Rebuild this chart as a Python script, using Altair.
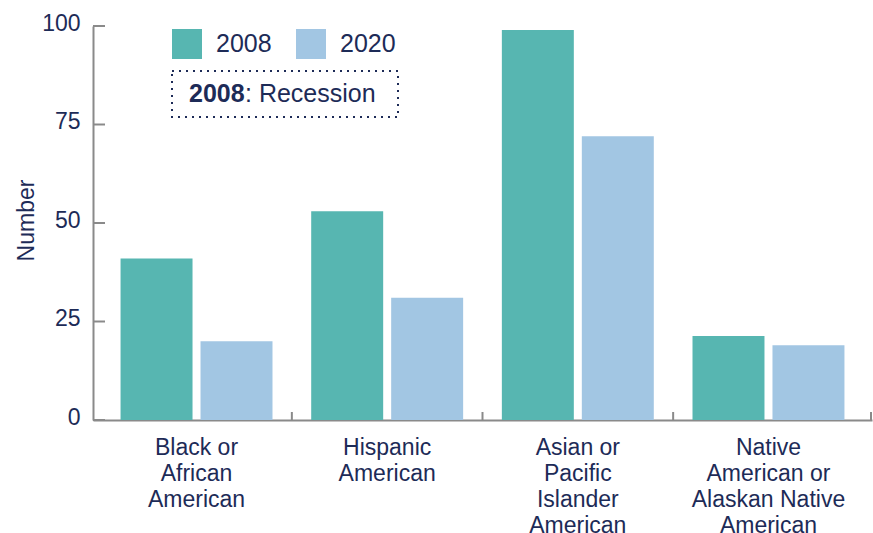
import altair as alt
import pandas as pd

groups = [
    "Black or\nAfrican\nAmerican",
    "Hispanic\nAmerican",
    "Asian or\nPacific\nIslander\nAmerican",
    "Native\nAmerican or\nAlaskan Native\nAmerican",
]
years = ["2008", "2020"]
values_2008 = [41, 53, 99, 21.3]
values_2020 = [20, 31, 72, 19]
y_ticks = [0, 25, 50, 75, 100]
colors = ["#57b6b1", "#a2c6e3"]

NAVY = "#1d2b57"
GRAY = "#8a8a8a"
FONT = "Liberation Sans"
W, H = 779, 394

rows = []
for g, a, b in zip(groups, values_2008, values_2020):
    rows.append({"group": g, "year": years[0], "value": a})
    rows.append({"group": g, "year": years[1], "value": b})
df = pd.DataFrame(rows)

x_scale = alt.Scale(domain=groups, paddingInner=0, paddingOuter=0.043)
y_scale = alt.Scale(domain=[0, 100], nice=False)

x_axis = alt.Axis(title=None, labelExpr="split(datum.label, '\\n')",
                  ticks=False, domainColor=GRAY, domainWidth=2,
                  labelFontSize=23, labelColor=NAVY, labelFont=FONT,
                  labelPadding=16, labelLineHeight=26, labelAngle=0,
                  labelBaseline="top")
y_axis = alt.Axis(values=y_ticks, title="Number", ticks=False, grid=False,
                  domainColor=GRAY, domainWidth=2, labelFontSize=23,
                  labelColor=NAVY, labelFont=FONT, labelPadding=13,
                  labelOffset=-3,
                  titleFont=FONT, titleFontSize=23, titleColor=NAVY,
                  titleFontWeight="normal", titleAngle=-90,
                  titleX=-60, titleY=194, titleAlign="center",
                  titleBaseline="alphabetic")

bars = alt.Chart(df).mark_bar().encode(
    x=alt.X("group:N", sort=groups, scale=x_scale, axis=x_axis),
    xOffset=alt.XOffset("year:N", sort=years,
                        scale=alt.Scale(paddingInner=0.1, paddingOuter=0.242)),
    y=alt.Y("value:Q", scale=y_scale, axis=y_axis),
    color=alt.Color("year:N", scale=alt.Scale(domain=years, range=colors),
                    legend=alt.Legend(orient="none", legendX=79, legendY=3,
                                      direction="horizontal", title=None,
                                      symbolType="square", symbolSize=900,
                                      symbolStrokeWidth=0, symbolOpacity=1,
                                      labelFontSize=25, labelFont=FONT,
                                      labelColor=NAVY, labelOffset=14,
                                      columnPadding=24, padding=0)),
)

ytick_df = pd.DataFrame({"value": y_ticks})
ytick_rules = alt.Chart(ytick_df).mark_rule(color=GRAY, strokeWidth=2).encode(
    y=alt.Y("value:Q", scale=y_scale, axis=y_axis),
    x=alt.value(0), x2=alt.value(12),
)

xtick_df = pd.DataFrame({"group": groups[:3]})
xtick_rules = alt.Chart(xtick_df).mark_rule(color=GRAY, strokeWidth=2).encode(
    x=alt.X("group:N", sort=groups, scale=x_scale, bandPosition=1, axis=x_axis),
    y=alt.value(H - 8), y2=alt.value(H),
)

one = pd.DataFrame({"k": [0]})
end_tick = alt.Chart(one).mark_rule(color=GRAY, strokeWidth=2).encode(
    x=alt.value(W - 1), y=alt.value(H - 8), y2=alt.value(H),
)

box = alt.Chart(one).mark_rect(fill="transparent", stroke=NAVY, strokeWidth=2,
                               strokeDash=[2, 5]).encode(
    x=alt.value(79), x2=alt.value(305), y=alt.value(45), y2=alt.value(91),
)
t_bold = alt.Chart(one).mark_text(align="left", baseline="alphabetic", fontSize=25,
                                  font=FONT, fontWeight="bold", color=NAVY).encode(
    x=alt.value(96), y=alt.value(76), text=alt.value("2008"),
)
t_rest = alt.Chart(one).mark_text(align="left", baseline="alphabetic", fontSize=25,
                                  font=FONT, color=NAVY).encode(
    x=alt.value(152), y=alt.value(76), text=alt.value(": Recession"),
)

chart = alt.layer(bars, ytick_rules, xtick_rules, end_tick, box, t_bold, t_rest).properties(
    width=W, height=H,
    autosize=alt.AutoSizeParams(type="none"),
    padding={"left": 93, "top": 26, "right": 1, "bottom": 113},
).configure_view(stroke=None)

chart.save("out.html", embed_options={"renderer": "svg", "actions": False})
